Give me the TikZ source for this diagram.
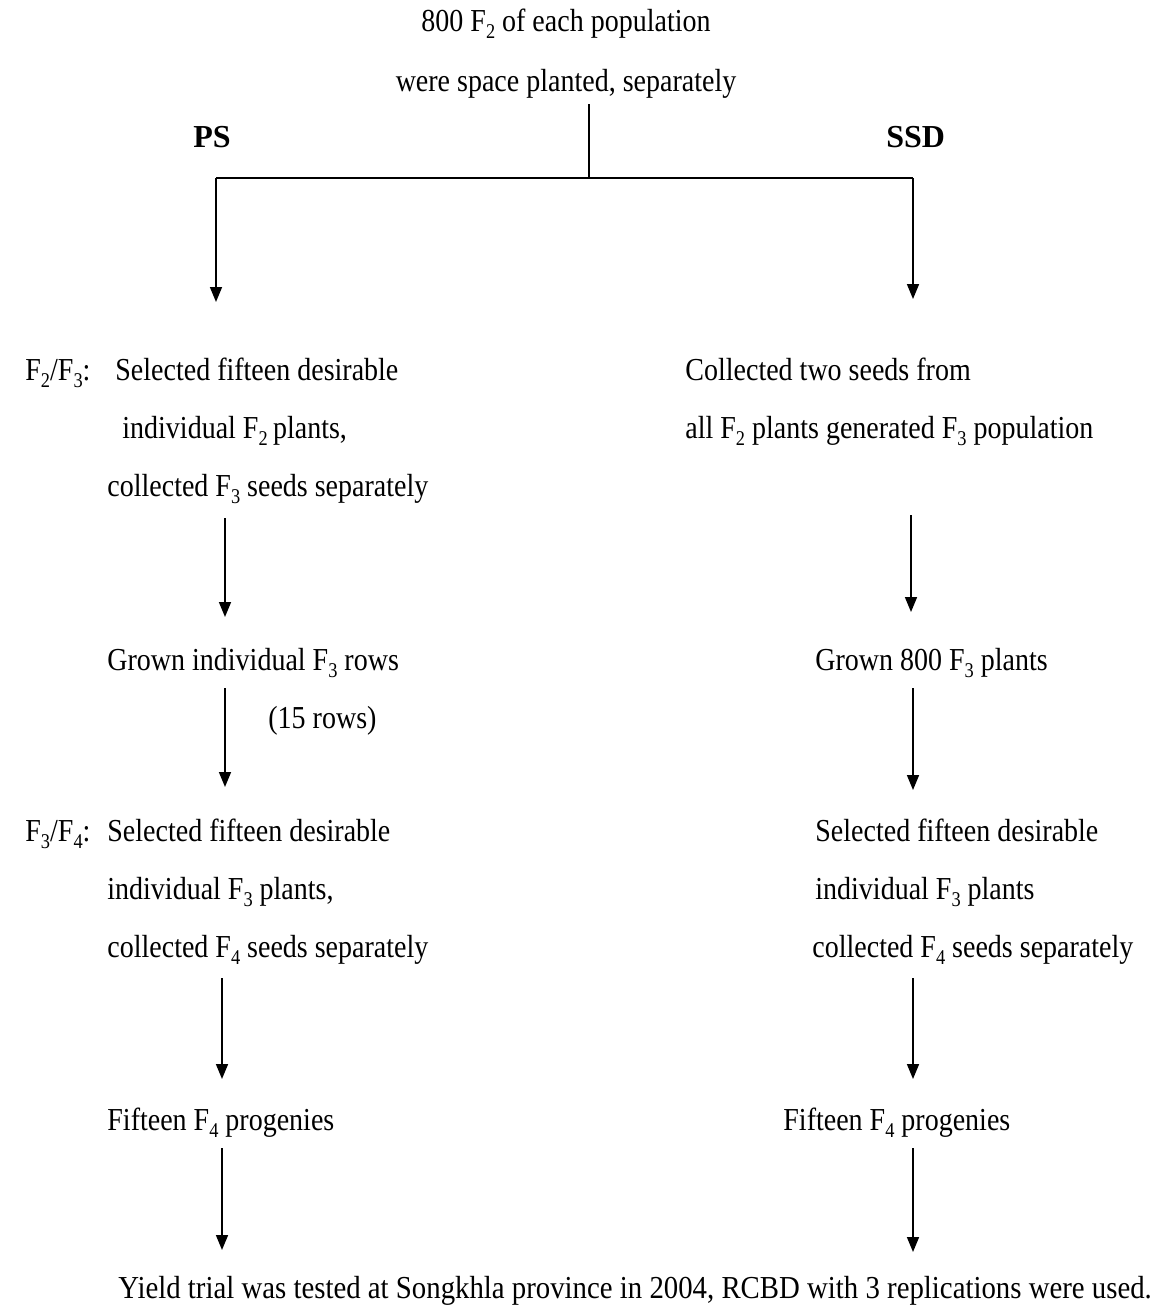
\documentclass[tikz,border=0pt]{standalone}
\usepackage{fontspec}
\setmainfont{Liberation Serif}
\newfontfamily\schmal{Liberation Serif}[FakeStretch=0.875]
\newfontfamily\breiter{Liberation Serif}[FakeStretch=0.9]
\usetikzlibrary{arrows.meta,positioning}
\tikzset{
  %Define standard arrow tip
  >={Triangle[length=7.5pt,width=6pt]},
  %Define style for text lines
  tekst/.style={
    anchor=base west,
    inner sep=0pt,
    font=\schmal\fontsize{16}{19}\selectfont},
  %Define style for the two method names
  kopf/.style={
    anchor=base west,
    inner sep=0pt,
    font=\fontsize{16}{19}\selectfont\bfseries},
  % Define arrow style
  pil/.style={
    ->,
    line width=0.8pt}
}
\newcommand{\Fg}[1]{F\raisebox{-0.24em}{\fontsize{10.5}{12}\selectfont #1}}

\begin{document}
\begin{tikzpicture}[x=0.5pt,y=-0.5pt]
    \useasboundingbox (0,0) rectangle (1166,1307);
    % top
    \node[tekst,anchor=base] (pop) at (566,31) {800 \Fg{2} of each population};
    \node[tekst,anchor=base] (plant) at (566,91) {were space planted, separately};
    \node[kopf] (ps) at (193,147) {PS};
    \node[kopf] (ssd) at (886,147) {SSD};
    \coordinate (top) at (589,104);
    \coordinate (mid) at (589,178);
    \coordinate (lcorner) at (216,178);
    \coordinate (rcorner) at (913,178);
    \draw[line width=0.8pt] (top) -- (mid);
    \draw[line width=1.1pt] (lcorner) -- (rcorner);
    % F2/F3
    \node[tekst] (gen1) at (25,380) {\Fg{2}/\Fg{3}:};
    \node[tekst] (ps1a) at (115,380) {Selected fifteen desirable};
    \node[tekst] (ps1b) at (115,438) {\ individual \Fg{2}\,plants,};
    \node[tekst] (ps1c) at (107,496) {collected \Fg{3} seeds separately};
    \node[tekst] (ssd1a) at (685,380) {Collected two seeds from};
    \node[tekst] (ssd1b) at (685,438) {all \Fg{2} plants generated \Fg{3} population};
    % F3 rows
    \node[tekst] (ps2a) at (107,670) {Grown individual \Fg{3} rows};
    \node[tekst] (ps2b) at (268,728) {(15 rows)};
    \node[tekst] (ssd2) at (815,670) {Grown 800 \Fg{3} plants};
    % F3/F4
    \node[tekst] (gen2) at (25,841) {\Fg{3}/\Fg{4}:};
    \node[tekst] (ps3a) at (107,841) {Selected fifteen desirable};
    \node[tekst] (ps3b) at (107,899) {individual \Fg{3} plants,};
    \node[tekst] (ps3c) at (107,957) {collected \Fg{4} seeds separately};
    \node[tekst] (ssd3a) at (815,841) {Selected fifteen desirable};
    \node[tekst] (ssd3b) at (815,899) {individual \Fg{3} plants};
    \node[tekst] (ssd3c) at (812,957) {collected \Fg{4} seeds separately};
    % F4
    \node[tekst] (ps4) at (107,1130) {Fifteen \Fg{4} progenies};
    \node[tekst] (ssd4) at (783,1130) {Fifteen \Fg{4} progenies};
    \node[tekst,font=\breiter\fontsize{16}{19}\selectfont] (trial) at (118,1298) {Yield trial was tested at Songkhla province in 2004, RCBD with 3 replications were used.};
    % arrow ends
    \coordinate (l1) at (216,302);   \coordinate (r1) at (913,299);
    \coordinate (l2s) at (225,518);  \coordinate (l2e) at (225,617);
    \coordinate (r2s) at (911,515);  \coordinate (r2e) at (911,612);
    \coordinate (l3s) at (225,688);  \coordinate (l3e) at (225,787);
    \coordinate (r3s) at (913,688);  \coordinate (r3e) at (913,790);
    \coordinate (l4s) at (222,978);  \coordinate (l4e) at (222,1079);
    \coordinate (r4s) at (913,978);  \coordinate (r4e) at (913,1079);
    \coordinate (l5s) at (222,1148); \coordinate (l5e) at (222,1250);
    \coordinate (r5s) at (913,1148); \coordinate (r5e) at (913,1252);
    \draw[pil] (lcorner) -- (l1);
    \draw[pil] (rcorner) -- (r1);
    \draw[pil] (l2s) -- (l2e);
    \draw[pil] (r2s) -- (r2e);
    \draw[pil] (l3s) -- (l3e);
    \draw[pil] (r3s) -- (r3e);
    \draw[pil] (l4s) -- (l4e);
    \draw[pil] (r4s) -- (r4e);
    \draw[pil] (l5s) -- (l5e);
    \draw[pil] (r5s) -- (r5e);
\end{tikzpicture}
\end{document}
